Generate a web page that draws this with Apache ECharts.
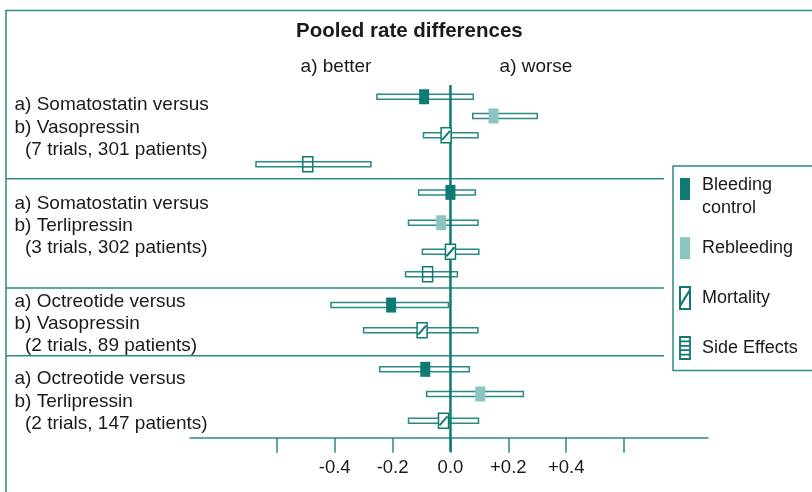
<!DOCTYPE html>
<html>
<head>
<meta charset="utf-8">
<script src="https://cdn.jsdelivr.net/npm/echarts@6/dist/echarts.min.js"></script>
<style>
html, body { margin: 0; padding: 0; background: #fff; }
#main { width: 812px; height: 492px; }
</style>
</head>
<body>
<div id="main"></div>
<script>
// ---- data ----
var outcomes = ['Bleeding control', 'Rebleeding', 'Mortality', 'Side Effects'];
var comparisons = [
    ['a) Somatostatin versus', 'b) Vasopressin', '(7 trials, 301 patients)'],
    ['a) Somatostatin versus', 'b) Terlipressin', '(3 trials, 302 patients)'],
    ['a) Octreotide versus', 'b) Vasopressin', '(2 trials, 89 patients)'],
    ['a) Octreotide versus', 'b) Terlipressin', '(2 trials, 147 patients)']
];
// [rate difference, lower, upper] per comparison, null = not reported
var bleedingControl = [[-0.091, -0.254, 0.079], [0.0, -0.11, 0.086], [-0.205, -0.413, -0.007], [-0.087, -0.244, 0.065]];
var rebleeding = [[0.149, 0.077, 0.30], [-0.032, -0.145, 0.095], null, [0.103, -0.082, 0.252]];
var mortality = [[-0.015, -0.093, 0.095], [0.0, -0.097, 0.098], [-0.098, -0.30, 0.095], [-0.024, -0.145, 0.097]];
var sideEffects = [[-0.493, -0.672, -0.275], [-0.079, -0.155, 0.024], null, null];
var tickValues = [-0.6, -0.4, -0.2, 0, 0.2, 0.4, 0.6];
var labelValues = [-0.4, -0.2, 0, 0.2, 0.4];

// ---- layout (row slots on the hidden y axis) ----
var rowPos = {
    'Bleeding control': [0.60, 5.48, 11.23, 14.51],
    'Rebleeding': [1.58, 7.03, null, 15.77],
    'Mortality': [2.57, 8.51, 12.51, 17.14],
    'Side Effects': [4.05, 9.66, null, null]
};
var groupLabelY = [105, 203.5, 301.5, 379];
var separatorY = [178.7, 288, 355.7];

var LINE = '#2a8a84';
var DARK = '#0e7a73';
var LIGHT = '#8cc4bf';
var TEXT = '#1a1a1a';
var FONT = '"Liberation Sans", Arial, sans-serif';

var seriesData = {
    'Bleeding control': bleedingControl,
    'Rebleeding': rebleeding,
    'Mortality': mortality,
    'Side Effects': sideEffects
};

var intervalData = [];
outcomes.forEach(function (name) {
    seriesData[name].forEach(function (d, i) {
        if (d) intervalData.push([d[1], d[2], rowPos[name][i]]);
    });
});

function renderInterval(params, api) {
    var a = api.coord([api.value(0), api.value(2)]);
    var b = api.coord([api.value(1), api.value(2)]);
    return {
        type: 'rect',
        shape: {x: a[0], y: a[1] - 2.5, width: b[0] - a[0], height: 5},
        style: {fill: '#fff', stroke: LINE, lineWidth: 1.5}
    };
}

function renderZero(params, api) {
    var top = api.coord([0, 0]);
    var bottom = api.coord([0, 18]);
    return {
        type: 'line',
        shape: {x1: top[0], y1: top[1], x2: bottom[0], y2: bottom[1] + 14},
        style: {stroke: DARK, lineWidth: 2.5}
    };
}

function markerRenderer(name) {
    return function (params, api) {
        var p = api.coord([api.value(0), api.value(1)]);
        var w = 10, h = 15;
        var x = p[0] - w / 2, y = p[1] - h / 2;
        var kids = [];
        if (name === 'Bleeding control') {
            kids.push({type: 'rect', shape: {x: x, y: y, width: w, height: h}, style: {fill: DARK}});
        } else if (name === 'Rebleeding') {
            kids.push({type: 'rect', shape: {x: x, y: y, width: w, height: h}, style: {fill: LIGHT}});
        } else if (name === 'Mortality') {
            kids.push({type: 'rect', shape: {x: x, y: y, width: w, height: h}, style: {fill: '#fff', stroke: DARK, lineWidth: 1.5}});
            kids.push({type: 'line', shape: {x1: x + 1, y1: y + h - 3, x2: x + w - 1, y2: y + 3}, style: {stroke: DARK, lineWidth: 2}});
        } else {
            kids.push({type: 'rect', shape: {x: x, y: y, width: w, height: h}, style: {fill: '#fff', stroke: DARK, lineWidth: 1.5}});
            kids.push({type: 'line', shape: {x1: x, y1: y + h / 3, x2: x + w, y2: y + h / 3}, style: {stroke: DARK, lineWidth: 1.5}});
            kids.push({type: 'line', shape: {x1: x, y1: y + 2 * h / 3, x2: x + w, y2: y + 2 * h / 3}, style: {stroke: DARK, lineWidth: 1.5}});
        }
        return {type: 'group', children: kids};
    };
}

var series = [
    {
        name: 'intervals', type: 'custom', z: 2, silent: true,
        renderItem: renderInterval, data: intervalData
    },
    {
        name: 'zero', type: 'custom', z: 3, silent: true,
        renderItem: renderZero, data: [[0]]
    }
];
outcomes.forEach(function (name) {
    var pts = [];
    seriesData[name].forEach(function (d, i) {
        if (d) pts.push([d[0], rowPos[name][i]]);
    });
    series.push({
        name: name, type: 'custom', z: 4, silent: true,
        renderItem: markerRenderer(name), data: pts
    });
});

var graphics = [
    {type: 'polyline', shape: {points: [[6, 492], [6, 10.5], [812, 10.5]]}, style: {stroke: LINE, lineWidth: 1.5, fill: null}},
    {type: 'text', x: 336, y: 67, style: {text: 'a) better', font: '19px ' + FONT, fill: TEXT, textAlign: 'center', textVerticalAlign: 'middle'}},
    {type: 'text', x: 536, y: 67, style: {text: 'a) worse', font: '19px ' + FONT, fill: TEXT, textAlign: 'center', textVerticalAlign: 'middle'}}
];
separatorY.forEach(function (y) {
    graphics.push({type: 'line', shape: {x1: 6, y1: y, x2: 664, y2: y}, style: {stroke: LINE, lineWidth: 1.5}});
});
comparisons.forEach(function (lines, g) {
    lines.forEach(function (t, k) {
        graphics.push({
            type: 'text', x: k === 2 ? 25 : 14.5, y: groupLabelY[g] + k * 22.3,
            style: {text: t, font: '19px ' + FONT, fill: TEXT, textVerticalAlign: 'middle'}
        });
    });
});

var option = {
    animation: false,
    backgroundColor: '#fff',
    title: {
        text: 'Pooled rate differences',
        left: 296,
        top: 21,
        padding: 0,
        textStyle: {fontFamily: FONT, fontSize: 20.5, fontWeight: 'bold', color: TEXT}
    },
    grid: {left: 190, right: 104, top: 85, bottom: 54.3},
    xAxis: {
        type: 'value',
        min: -0.9,
        max: 0.89,
        splitLine: {show: false},
        axisLine: {onZero: false, lineStyle: {color: LINE, width: 1.5}},
        axisTick: {customValues: tickValues, length: 15, lineStyle: {color: LINE, width: 1.5}},
        axisLabel: {
            customValues: labelValues,
            margin: 21,
            fontFamily: FONT,
            fontSize: 18.5,
            color: TEXT,
            formatter: function (v) {
                return v > 0 ? '+' + v.toFixed(1) : v.toFixed(1);
            }
        }
    },
    yAxis: {type: 'value', inverse: true, min: 0, max: 18, show: false},
    legend: {
        orient: 'vertical',
        left: 673,
        top: 166,
        padding: [0, 40, 10.5, 6],
        borderColor: LINE,
        borderWidth: 1.5,
        itemWidth: 10,
        itemHeight: 22,
        itemGap: 19.2,
        selectedMode: false,
        textStyle: {
            fontFamily: FONT, fontSize: 18, lineHeight: 23, color: TEXT, padding: [0, 0, 0, 7],
            rich: {
                b1: {fontFamily: FONT, fontSize: 18, color: TEXT, lineHeight: 39},
                b2: {fontFamily: FONT, fontSize: 18, color: TEXT, lineHeight: 7},
                m: {fontFamily: FONT, fontSize: 18, color: TEXT, lineHeight: 38}
            }
        },
        formatter: function (n) {
            if (n === 'Bleeding control') return '{b1|Bleeding}\n{b2|control}';
            if (n === 'Mortality') return '{m|Mortality}';
            return n;
        },
        data: [
            {name: 'Bleeding control', icon: 'rect', itemStyle: {color: DARK, borderWidth: 0}},
            {name: 'Rebleeding', icon: 'rect', itemStyle: {color: LIGHT, borderWidth: 0}},
            {name: 'Mortality', icon: 'path://M0,0H10V22H0Z M0,19L10,3',
                itemStyle: {color: '#fff', borderColor: DARK, borderWidth: 2}},
            {name: 'Side Effects', icon: 'path://M0,0H10V22H0Z M0,4.4H10 M0,8.8H10 M0,13.2H10 M0,17.6H10',
                itemStyle: {color: '#fff', borderColor: DARK, borderWidth: 1.8}}
        ]
    },
    graphic: graphics,
    series: series
};

var chart = echarts.init(document.getElementById('main'));
chart.setOption(option);
</script>
</body>
</html>
